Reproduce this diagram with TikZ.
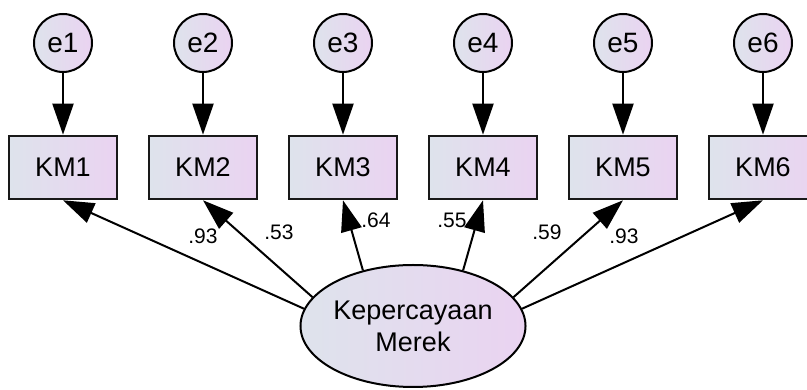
\documentclass[tikz,border=0pt]{standalone}
\usepackage{fontspec}
\setmainfont{Liberation Sans}
\usetikzlibrary{arrows.meta,shapes.geometric}

\definecolor{fillL}{HTML}{DEE3EC}
\definecolor{fillR}{HTML}{EAD3F1}

\begin{document}
\begin{tikzpicture}[x=1pt, y=1pt,
	err/.style={circle, draw, line width=2pt, minimum size=58pt, inner sep=0pt, left color=fillL, right color=fillR, font=\fontsize{28}{32}\selectfont},
	obs/.style={rectangle, draw=black!90, line width=2.6pt, minimum width=108pt, minimum height=63pt, inner sep=0pt, left color=fillL, right color=fillR, font=\fontsize{27}{32}\selectfont},
	lat/.style={ellipse, draw, line width=2pt, minimum width=216pt, minimum height=122pt, inner sep=0pt, align=center, left color=fillL, right color=fillR, font=\fontsize{27}{32}\selectfont},
	reg/.style={-{Triangle[length=31pt, width=21pt]}, line width=2pt},
	coef/.style={inner sep=0pt, font=\fontsize{21}{25}\selectfont}]

	\useasboundingbox (0, 0) rectangle (807, 390);

	\node[err] (e1) at (63, 347) {e1};
	\node[err] (e2) at (203, 347) {e2};
	\node[err] (e3) at (343, 347) {e3};
	\node[err] (e4) at (483, 347) {e4};
	\node[err] (e5) at (623, 347) {e5};
	\node[err] (e6) at (763, 347) {e6};

	\node[obs] (km1) at (63, 222.5) {KM1};
	\node[obs] (km2) at (203, 222.5) {KM2};
	\node[obs] (km3) at (343, 222.5) {KM3};
	\node[obs] (km4) at (483, 222.5) {KM4};
	\node[obs] (km5) at (623, 222.5) {KM5};
	\node[obs] (km6) at (763, 222.5) {KM6};

	\node[lat] (km) at (413, 64) {Kepercayaan\\Merek};

	\draw[reg] (e1) -- (km1);
	\draw[reg] (e2) -- (km2);
	\draw[reg] (e3) -- (km3);
	\draw[reg] (e4) -- (km4);
	\draw[reg] (e5) -- (km5);
	\draw[reg] (e6) -- (km6);

	\draw[reg] (km.171) -- (km1.south);
	\draw[reg] (km.164) -- (km2.south);
	\draw[reg] (km.132) -- (km3.south);
	\draw[reg] (km.48) -- (km4.south);
	\draw[reg] (km.16) -- (km5.south);
	\draw[reg] (km.9) -- (km6.south);

	\node[coef] (l1) at (203, 154) {.93};
	\node[coef] (l2) at (279, 158) {.53};
	\node[coef] (l3) at (376, 170) {.64};
	\node[coef] (l4) at (452, 170) {.55};
	\node[coef] (l5) at (547, 158) {.59};
	\node[coef] (l6) at (624, 154) {.93};

\end{tikzpicture}
\end{document}
